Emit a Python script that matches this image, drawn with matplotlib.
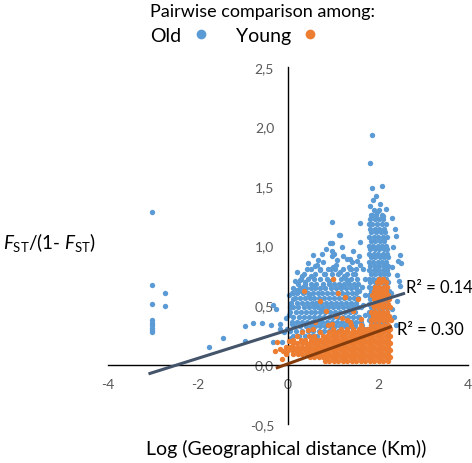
import matplotlib
matplotlib.use("Agg")
import matplotlib.pyplot as plt
from matplotlib.lines import Line2D
from matplotlib.ticker import FuncFormatter, FixedLocator

plt.rcParams['font.family'] = ['Lato', 'DejaVu Sans']
plt.rcParams['mathtext.fontset'] = 'custom'
plt.rcParams['mathtext.rm'] = 'Lato'
plt.rcParams['mathtext.it'] = 'Lato:italic'

# ---------------- data ----------------
x_ticks = [-4, -2, 0, 2, 4]
y_ticks = [-0.5, 0.0, 0.5, 1.0, 1.5, 2.0, 2.5]
series_names = ["Old", "Young"]

# Old: isolated points far left
old_far_x = [-3.02, -3.02, -3.02, -3.02, -3.02, -3.02, -3.02, -3.02, -3.02, -2.73, -2.73]
old_far_y = [1.28, 0.67, 0.51, 0.37, 0.35, 0.33, 0.31, 0.29, 0.27, 0.60, 0.49]

# Old: sparse points between -2 and 0.2
old_left_x = [-1.76, -1.44, -0.96, -0.96, -0.78, -0.58, -0.38, -0.33, -0.27, -0.18, -0.18,
              -0.33, -0.13, -0.04, -0.02, -0.10, 0.02, 0.10, 0.20, 0.04, 0.11, 0.07]
old_left_y = [0.15, 0.22, 0.32, 0.20, 0.35, 0.35, 0.33, 0.50, 0.47, 0.34, 0.30,
              0.19, 0.19, 0.39, 0.30, 0.27, 0.58, 0.55, 0.63, 0.48, 0.60, 0.22]

# Old: sparse upper / right points
old_sparse_x = [1.87, 1.82, 1.87, 2.09, 1.89, 1.82, 1.84, 2.18, 0.98, 1.60, 1.80, 2.31,
                1.16, 0.98, 1.60, 2.38, 2.40, 2.33, 2.49, 2.50, 2.45, 2.43, 2.49, 2.42,
                2.31, 1.95, 2.05, 1.98, 2.12,
                1.13, 0.93, 0.76, 1.02, 1.31, 1.42, 1.53, 0.44, 0.60, 0.78, 1.07,
                0.98, 0.98, 0.99, 1.22, 1.38, 1.58, 1.60, 0.27, 0.38, 0.33, 1.66,
                1.70, 1.64, 1.72, 1.66, 1.70, 1.62, 1.75, 1.68, 2.28, 2.35, 2.40,
                2.30, 2.46, 0.55, 0.85, 1.20, 1.45]
old_sparse_y = [1.93, 1.69, 1.48, 1.50, 1.38, 1.33, 1.26, 1.31, 1.20, 1.19, 1.18, 1.23,
                1.09, 1.02, 1.03, 1.14, 1.08, 0.99, 0.92, 0.85, 0.87, 0.75, 0.66, 0.53,
                0.47, 1.42, 1.35, 1.28, 1.25,
                1.09, 1.02, 0.93, 0.93, 0.89, 0.86, 0.87, 0.85, 0.83, 0.86, 0.84,
                0.95, 0.91, 0.82, 0.91, 0.89, 0.91, 0.84, 0.71, 0.69, 0.65, 0.80,
                0.72, 0.65, 0.58, 0.50, 0.42, 0.36, 0.30, 0.25, 0.60, 0.40, 0.33,
                0.82, 0.70, 0.92, 0.97, 0.99, 0.95]

# Old: extra points along the ragged edges of the main cloud
old_edge_x = [0.20, 0.42, 0.64, 0.95, 1.15, 1.35, 1.48, 0.50, 0.83, 1.25, 0.31, 0.71,
              1.58, 1.62, 1.57, 1.64, 1.60, 0.15, 0.03, 0.09, 0.66, 1.09, 1.41, 0.24,
              0.55, 0.90, 1.18, 1.33, 0.47, 0.74]
old_edge_y = [0.78, 0.80, 0.84, 0.80, 0.78, 0.82, 0.76, 0.74, 0.76, 0.74, 0.74, 0.79,
              0.62, 0.48, 0.40, 0.33, 0.27, 0.70, 0.42, 0.34, 0.88, 0.88, 0.80, 0.62,
              0.66, 0.70, 0.66, 0.70, 0.58, 0.46]

# Old: dense main cloud, row by row (row height, x positions)
old_mass_y = [0.80, 0.76, 0.72, 0.68, 0.64, 0.60, 0.56, 0.52, 0.48, 0.44, 0.40, 0.36, 0.32, 0.28, 0.24, 0.20]
old_mass_x = [
    [0.52, 0.71, 0.88, 1.05, 1.22, 1.38, 1.50],
    [0.35, 0.60, 0.79, 0.97, 1.12, 1.30, 1.45],
    [0.28, 0.45, 0.58, 0.70, 0.86, 1.00, 1.17, 1.28, 1.41, 1.53],
    [0.22, 0.37, 0.50, 0.63, 0.77, 0.90, 1.03, 1.14, 1.25, 1.36, 1.47, 1.55],
    [0.12, 0.27, 0.40, 0.52, 0.61, 0.72, 0.83, 0.95, 1.06, 1.18, 1.29, 1.40, 1.50],
    [0.08, 0.20, 0.33, 0.44, 0.55, 0.66, 0.76, 0.87, 0.98, 1.09, 1.20, 1.31, 1.42, 1.52],
    [0.15, 0.27, 0.38, 0.49, 0.58, 0.69, 0.80, 0.91, 1.02, 1.13, 1.24, 1.35, 1.46, 1.56],
    [0.06, 0.19, 0.31, 0.42, 0.53, 0.63, 0.73, 0.84, 0.95, 1.06, 1.17, 1.28, 1.39, 1.50],
    [0.10, 0.23, 0.35, 0.46, 0.57, 0.67, 0.78, 0.89, 1.00, 1.11, 1.22, 1.33, 1.44, 1.55],
    [0.05, 0.17, 0.29, 0.40, 0.51, 0.61, 0.72, 0.83, 0.94, 1.05, 1.16, 1.27, 1.38, 1.49],
    [0.12, 0.25, 0.36, 0.47, 0.57, 0.68, 0.79, 0.90, 1.01, 1.12, 1.23, 1.34, 1.45, 1.56],
    [0.08, 0.20, 0.32, 0.43, 0.54, 0.65, 0.76, 0.87, 0.98, 1.09, 1.20, 1.31, 1.42, 1.52],
    [0.14, 0.27, 0.39, 0.50, 0.61, 0.72, 0.83, 0.94, 1.05, 1.16, 1.27, 1.38, 1.48],
    [0.05, 0.18, 0.31, 0.44, 0.56, 0.68, 0.80, 0.92, 1.10, 1.30],
    [0.10, 0.24, 0.37, 0.50, 0.64],
    [0.08, 0.30],
]

# Old: dense column near x = 2
old_col_y = [1.30, 1.26, 1.22, 1.18, 1.14, 1.11, 1.07, 1.04, 1.00, 0.97, 0.93, 0.90, 0.86,
             0.83, 0.79, 0.76, 0.72, 0.69, 0.65, 0.62, 0.58, 0.55, 0.51, 0.48, 0.44, 0.41,
             0.37, 0.34, 0.30]
old_col_x = [
    [1.90, 2.02],
    [1.86, 1.96, 2.08],
    [1.83, 1.93, 2.03, 2.12],
    [1.86, 1.97, 2.08, 2.17],
    [1.82, 1.93, 2.03, 2.14],
    [1.85, 1.96, 2.06, 2.16],
    [1.80, 1.90, 2.00, 2.10, 2.19],
    [1.84, 1.94, 2.04, 2.13],
    [1.79, 1.89, 1.99, 2.09, 2.18],
    [1.83, 1.93, 2.03, 2.13, 2.21],
    [1.80, 1.90, 2.00, 2.10, 2.19],
    [1.84, 1.94, 2.04, 2.14, 2.22],
    [1.79, 1.89, 1.99, 2.09, 2.18],
    [1.83, 1.93, 2.03, 2.13, 2.22],
    [1.80, 1.90, 2.00, 2.10, 2.19],
    [1.84, 1.94, 2.04, 2.14, 2.23],
    [1.79, 1.89, 1.99, 2.09, 2.18],
    [1.83, 1.93, 2.03, 2.13, 2.22],
    [1.80, 1.90, 2.00, 2.10, 2.20],
    [1.84, 1.94, 2.04, 2.14, 2.24],
    [1.79, 1.89, 1.99, 2.09, 2.19],
    [1.83, 1.93, 2.03, 2.13, 2.23],
    [1.80, 1.90, 2.00, 2.10, 2.20],
    [1.84, 1.94, 2.04, 2.14, 2.24],
    [1.79, 1.89, 1.99, 2.09, 2.19],
    [1.83, 1.93, 2.03, 2.13, 2.23],
    [1.80, 1.90, 2.00, 2.10, 2.20],
    [1.84, 1.94, 2.04, 2.14],
    [1.80, 1.90, 2.00, 2.10],
]

# Young: scattered points
young_sparse_x = [0.36, 1.00, 0.71, 1.11, 1.27, 0.98, 1.07, 0.60, 1.20, 0.85, 1.45, 1.30,
                  1.55, -0.24, -0.18, -0.29, -0.11, -0.13, 0.09, -0.05, 0.03, 0.12,
                  0.30, 0.55, 0.88, 1.38, 1.62, 0.20, 0.45]
young_sparse_y = [0.62, 0.72, 0.53, 0.60, 0.57, 0.34, 0.41, 0.36, 0.39, 0.45, 0.45, 0.37,
                  0.55, 0.19, 0.13, 0.11, 0.11, 0.05, 0.15, 0.09, 0.20, 0.21,
                  0.27, 0.30, 0.33, 0.36, 0.38, 0.24, 0.29]

# Young: dense band, row by row
young_band_y = [0.03, 0.06, 0.09, 0.12, 0.15, 0.18, 0.21, 0.24, 0.27, 0.30, 0.33]
young_band_x = [
    [0.82, 0.92, 1.02, 1.12, 1.22, 1.32, 1.42, 1.52, 1.62, 1.72, 1.82, 1.92, 2.02, 2.12, 2.22],
    [0.48, 0.58, 0.68, 0.77, 0.87, 0.97, 1.07, 1.17, 1.27, 1.37, 1.47, 1.57, 1.67, 1.77, 1.87, 1.97, 2.07, 2.17, 2.27],
    [0.12, 0.22, 0.32, 0.42, 0.52, 0.62, 0.72, 0.82, 0.92, 1.02, 1.12, 1.22, 1.32, 1.42, 1.52, 1.62, 1.72, 1.82, 1.92, 2.02, 2.12, 2.22],
    [0.00, 0.08, 0.17, 0.27, 0.37, 0.47, 0.57, 0.67, 0.77, 0.87, 0.97, 1.07, 1.17, 1.27, 1.37, 1.47, 1.57, 1.67, 1.77, 1.87, 1.97, 2.07, 2.17, 2.27],
    [-0.04, 0.04, 0.12, 0.22, 0.32, 0.42, 0.52, 0.62, 0.72, 0.82, 0.92, 1.02, 1.12, 1.22, 1.32, 1.42, 1.52, 1.62, 1.72, 1.82, 1.92, 2.02, 2.12, 2.22],
    [0.10, 0.20, 0.30, 0.40, 0.48, 0.57, 0.67, 0.77, 0.87, 0.97, 1.07, 1.17, 1.27, 1.37, 1.47, 1.57, 1.67, 1.77, 1.87, 1.97, 2.07, 2.17, 2.27],
    [0.28, 0.38, 0.52, 0.62, 0.72, 0.82, 0.92, 1.02, 1.12, 1.22, 1.32, 1.42, 1.52, 1.62, 1.72, 1.82, 1.92, 2.02, 2.12, 2.22],
    [0.46, 0.57, 0.77, 0.87, 0.97, 1.07, 1.17, 1.27, 1.37, 1.47, 1.57, 1.67, 1.77, 1.87, 1.97, 2.07, 2.17, 2.27],
    [0.72, 0.92, 1.02, 1.12, 1.22, 1.32, 1.42, 1.52, 1.62, 1.72, 1.82, 1.92, 2.02, 2.12, 2.22],
    [1.00, 1.18, 1.30, 1.45, 1.57, 1.68, 1.77, 1.87, 1.97, 2.07, 2.17, 2.26],
    [1.40, 1.62, 1.84, 1.93, 2.03, 2.13, 2.22],
]

# Young: dense column near x = 2
young_col_y = [0.72, 0.69, 0.65, 0.62, 0.58, 0.55, 0.51, 0.48, 0.44, 0.41, 0.37]
young_col_x = [
    [2.02, 2.12],
    [1.97, 2.07, 2.17],
    [1.93, 2.03, 2.13, 2.21],
    [1.90, 1.99, 2.08, 2.17],
    [1.87, 1.96, 2.05, 2.14, 2.22],
    [1.90, 1.99, 2.08, 2.17, 2.25],
    [1.86, 1.95, 2.04, 2.13, 2.22],
    [1.90, 1.99, 2.08, 2.17, 2.26],
    [1.85, 1.94, 2.03, 2.12, 2.21],
    [1.89, 1.98, 2.07, 2.16, 2.25],
    [1.84, 1.93, 2.02, 2.11, 2.20, 2.28],
]

# Trend lines (slope, intercept, x-range)
old_trend = (0.119, 0.29, -3.1, 2.6)
young_trend = (0.136, 0.006, -0.27, 2.31)
old_r2 = "R² = 0.14"
young_r2 = "R² = 0.30"

# ---------------- assemble ----------------
def flat(rows_y, rows_x):
    xs, ys = [], []
    for y, row in zip(rows_y, rows_x):
        for x in row:
            xs.append(x)
            ys.append(y)
    return xs, ys

mx, my = flat(old_mass_y, old_mass_x)
cx, cy = flat(old_col_y, old_col_x)
old_x = old_far_x + old_left_x + old_sparse_x + old_edge_x + mx + cx
old_y = old_far_y + old_left_y + old_sparse_y + old_edge_y + my + cy

bx, by = flat(young_band_y, young_band_x)
ycx, ycy = flat(young_col_y, young_col_x)
young_x = young_sparse_x + bx + ycx
young_y = young_sparse_y + by + ycy

BLUE = "#5B9BD5"
ORANGE = "#ED7D31"

fig = plt.figure(figsize=(4.72, 4.64), dpi=100)
ax = fig.add_axes([108 / 472, 39 / 464, 360 / 472, 357 / 464])

ax.scatter(old_x, old_y, s=15, color=BLUE, linewidths=0, zorder=2)
ax.scatter(young_x, young_y, s=15, color=ORANGE, linewidths=0, zorder=3)

for (m, b, x0, x1), col in [(old_trend, "#44546A"), (young_trend, "#843C0C")]:
    ax.plot([x0, x1], [m * x0 + b, m * x1 + b], color=col, lw=2.2, zorder=4,
            solid_capstyle='butt')

ax.text(2.62, 0.655, old_r2, fontsize=12, va='center', ha='left', color='black')
ax.text(2.42, 0.30, young_r2, fontsize=12, va='center', ha='left', color='black')

ax.set_xlim(-4, 4)
ax.set_ylim(-0.5, 2.5)
ax.spines['left'].set_position(('data', 0))
ax.spines['bottom'].set_position(('data', 0))
ax.spines['right'].set_visible(False)
ax.spines['top'].set_visible(False)
for sp in ('left', 'bottom'):
    ax.spines[sp].set_linewidth(1.0)
    ax.spines[sp].set_color('black')
ax.xaxis.set_major_locator(FixedLocator(x_ticks))
ax.yaxis.set_major_locator(FixedLocator(y_ticks))
ax.xaxis.set_major_formatter(FuncFormatter(lambda v, p: f"{v:g}".replace('.', ',')))
ax.yaxis.set_major_formatter(FuncFormatter(lambda v, p: f"{v:.1f}".replace('.', ',')))
ax.tick_params(axis='both', length=0, labelsize=10, labelcolor='#595959')
ax.tick_params(axis='x', pad=10)
ax.tick_params(axis='y', pad=10)
ax.patch.set_alpha(0)

fig.text(286 / 472, (464 - 449) / 464, "Log (Geographical distance (Km))",
         ha='center', va='center', fontsize=14)
fig.text(3 / 472, (464 - 243) / 464,
         r"$\mathit{F}_{\mathrm{ST}}$/(1- $\mathit{F}_{\mathrm{ST}}$)",
         ha='left', va='center', fontsize=13.5)

handles = [Line2D([], [], ls='', marker='o', ms=7, color=BLUE, mew=0),
           Line2D([], [], ls='', marker='o', ms=7, color=ORANGE, mew=0)]
leg = fig.legend(handles=handles, labels=series_names, ncol=2,
                 markerfirst=False, title="Pairwise comparison among:",
                 frameon=False, loc='upper left',
                 bbox_to_anchor=(148 / 472, 1 - 2 / 464), bbox_transform=fig.transFigure,
                 fontsize=14, title_fontsize=13, alignment='left',
                 handlelength=1.0, handletextpad=0.5,
                 columnspacing=1.3, borderaxespad=0.0, borderpad=0.1,
                 labelspacing=0.4)

fig.savefig("out.png", dpi=100)
